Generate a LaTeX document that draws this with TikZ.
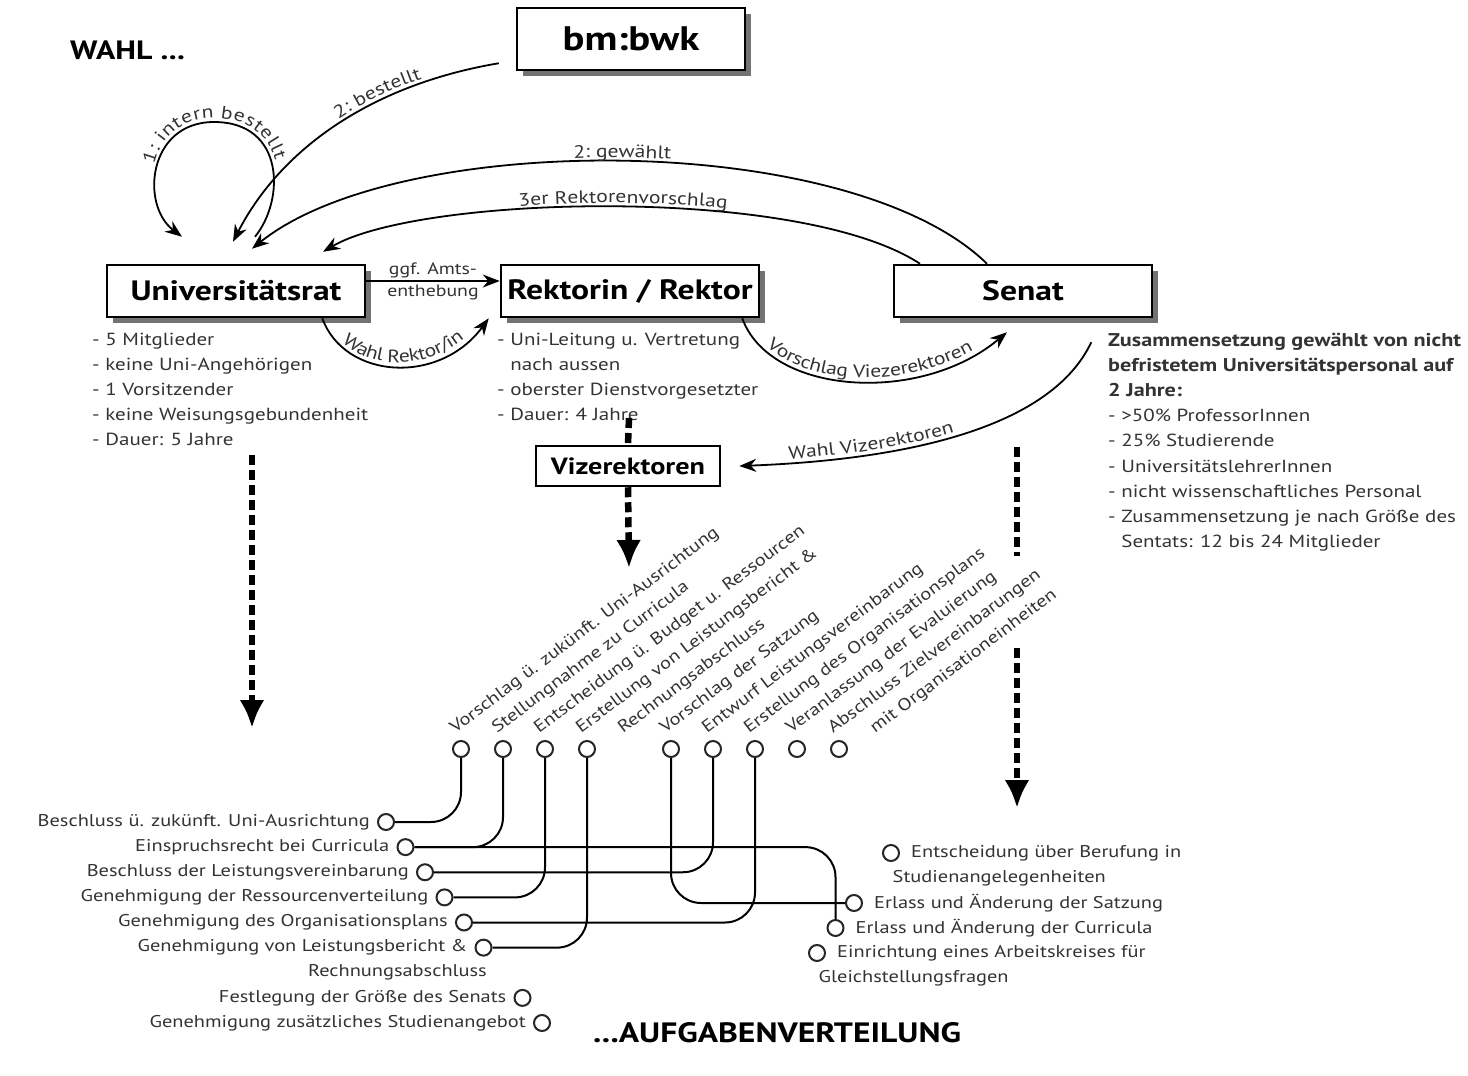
\documentclass[tikz,border=0pt]{standalone}
\usepackage{fontspec}
\setmainfont{PT Sans}[FakeStretch=1.2]
\usetikzlibrary{arrows.meta,shadows,decorations.text}

\newcommand{\listfnt}{\fontsize{17.5}{25.1}\selectfont}
\newcommand{\taskfnt}{\fontsize{17}{25.1}\selectfont}
\newcommand{\arrowfnt}{\fontsize{18}{22}\selectfont}

\begin{document}
\begin{tikzpicture}[x=1pt, y=-1pt, >={Stealth[length=17pt,width=13pt]},
  box/.style={draw=black, line width=2.5pt, fill=white, inner sep=0pt,
    font=\bfseries\fontsize{28}{32}\selectfont},
  shadowbox/.style={box, minimum width=258pt, minimum height=52pt,
    drop shadow={shadow xshift=6pt, shadow yshift=-6pt, fill=black!55, opacity=1}},
  listtxt/.style={inner sep=0pt, align=left, text=black!80, font=\listfnt},
  tasktxt/.style={listtxt, font=\taskfnt},
  dot/.style={circle, draw=black!85, line width=2pt, fill=white, minimum size=16pt, inner sep=0pt},
  link/.style={line width=2pt, rounded corners=30pt},
  arr/.style={line width=1.8pt},
  along/.style={decorate, decoration={text along path, raise=4pt, text align=center,
    text={|\arrowfnt\color{black!80}|#1}}},
  thickdash/.style={line width=6.5pt, dash pattern=on 10pt off 5pt},
  bigtip/.style={-{Latex[length=28pt,width=25pt]}}
]
  \fill[white] (0,0) rectangle (1468,1076);
  \useasboundingbox (0,0) rectangle (1468,1076);

  % titles
  \node[inner sep=0pt, anchor=west, font=\bfseries\fontsize{26.5}{30}\selectfont] (wahl) at (70,50) {WAHL ...};
  \node[inner sep=0pt, anchor=west, font=\bfseries\fontsize{28}{32}\selectfont] (aufg) at (593,1033) {...AUFGABENVERTEILUNG};

  % boxes
  \node[shadowbox, minimum width=228pt, minimum height=62pt, font=\bfseries\fontsize{34}{40}\selectfont] (bm) at (631,39) {bm:bwk};
  \node[shadowbox] (urat) at (236,291) {Universitätsrat};
  \node[shadowbox] (rektor) at (630,291) {Rektorin / Rektor};
  \node[shadowbox] (senat) at (1023,291) {Senat};
  \node[box, minimum width=184pt, minimum height=40pt, font=\bfseries\fontsize{23.5}{26}\selectfont] (viz) at (628,466) {Vizerektoren};

  % lists under the boxes
  \node[listtxt, anchor=north west] (ulist) at (92,333) {- 5 Mitglieder\\- keine Uni-Angehörigen\\- 1 Vorsitzender\\- keine Weisungsgebundenheit\\- Dauer: 5 Jahre};
  \node[listtxt, anchor=north west] (rlist) at (497,333) {- Uni-Leitung u. Vertretung\\\phantom{- }nach aussen\\- oberster Dienstvorgesetzter\\- Dauer: 4 Jahre};
  \node[listtxt, anchor=north west] (slist) at (1108,333) {{\bfseries\fontsize{18.5}{25.1}\selectfont Zusammensetzung gewählt von nicht}\\{\bfseries\fontsize{18.5}{25.1}\selectfont befristetem Universitätspersonal auf}\\{\bfseries\fontsize{18.5}{25.1}\selectfont 2 Jahre:}\\- >50\% ProfessorInnen\\- 25\% Studierende\\- UniversitätslehrerInnen\\- nicht wissenschaftliches Personal\\- Zusammensetzung je nach Größe des\\\phantom{- }Sentats: 12 bis 24 Mitglieder};

  % arrows between the bodies
  \draw[arr, <-, postaction={along={1: intern bestellt}}] ([xshift=-54pt,yshift=27pt]urat.north)
    .. controls (140,205) and (148,122) .. (214,122) .. controls (285,122) and (285,200) .. ([xshift=19pt,yshift=27pt]urat.north);
  \draw[arr, <-, postaction={along={2: bestellt}, decoration={text align={right, right indent=78pt}}}] ([xshift=-3pt,yshift=22pt]urat.north)
    .. controls (280,150) and (370,85) .. ([xshift=-17pt,yshift=8pt]bm.south west);
  \draw[arr, <-, postaction={along={2: gewählt}}] ([xshift=16pt,yshift=15pt]urat.north)
    .. controls (400,130) and (850,130) .. ([xshift=-36pt]senat.north);
  \draw[arr, <-, postaction={along={3er Rektorenvorschlag}}] ([xshift=87pt,yshift=12pt]urat.north)
    .. controls (420,195) and (800,185) .. ([xshift=-103pt]senat.north);
  \draw[arr, ->] ([yshift=10pt]urat.east) -- node[inner sep=0pt, align=center, text=black!80, font=\fontsize{16.5}{22}\selectfont] {ggf. Amts-\\enthebung} ([yshift=10pt]rektor.west);
  \draw[arr, ->, postaction={along={Wahl Rektor/in}}] ([xshift=-44pt]urat.south east)
    .. controls (345,380) and (440,385) .. ([xshift=-11pt]rektor.south west);
  \draw[arr, ->, postaction={along={Vorschlag Viezerektoren}}] ([xshift=-18pt]rektor.south east)
    .. controls (770,395) and (920,405) .. ([xshift=-16pt,yshift=-14pt]senat.south);
  \draw[arr, <-, postaction={along={Wahl Vizerektoren}, decoration={text align={left, left indent=50pt}}}] ([xshift=18pt]viz.east)
    .. controls (900,460) and (1050,430) .. ([xshift=-62pt,yshift=-24pt]senat.south east);

  % thick dashed arrows down to the tasks
  \coordinate (udash) at (252,455);
  \coordinate (utip) at (252,728);
  \draw[thickdash, bigtip] (udash) -- (utip);
  \coordinate (rdash) at (629,418);
  \draw[thickdash] (rdash) -- (viz.north);
  \coordinate (vtip) at (629,568);
  \draw[thickdash, bigtip] (viz.south) -- (vtip);
  \coordinate (sdashA) at (1017,447);
  \coordinate (sdashB) at (1017,556);
  \coordinate (sdashC) at (1017,648);
  \coordinate (stip) at (1017,808);
  \draw[thickdash] (sdashA) -- (sdashB);
  \draw[thickdash, bigtip] (sdashC) -- (stip);

  % tasks of the Rektorat
  \foreach \txt [count=\k from 0] in {Vorschlag ü. zukünft. Uni-Ausrichtung, Stellungnahme zu Curricula,
      Entscheidung ü. Budget u. Ressourcen, Erstellung von Leistungsbericht \&, Rechnungsabschluss,
      Vorschlag der Satzung, Entwurf Leistungsvereinbarung, Erstellung des Organisationsplans,
      Veranlassung der Evaluierung, Abschluss Zielvereinbarungen, mit Organisationeinheiten}
    \node[tasktxt, rotate=37, anchor=base west] (v\k) at ({455+42*\k},734) {\txt};
  \foreach \k in {0,1,2,3,5,6,7,8,9}
    \node[dot] (t\k) at ({461+42*\k},749) {};

  % tasks of the Universitaetsrat
  \foreach \txt [count=\k from 0] in {Beschluss ü. zukünft. Uni-Ausrichtung, Einspruchsrecht bei Curricula,
      Beschluss der Leistungsvereinbarung, Genehmigung der Ressourcenverteilung,
      Genehmigung des Organisationsplans, Genehmigung von Leistungsbericht \&, Rechnungsabschluss,
      Festlegung der Größe des Senats, Genehmigung zusätzliches Studienangebot}
    \node[tasktxt, anchor=east] (l\k) at ({370+19.5*\k},{822+25.125*\k}) {\txt};
  \foreach \k in {0,1,2,3,4,5,7,8}
    \node[dot] (b\k) at ({386+19.5*\k},{822+25.125*\k}) {};

  % tasks of the Senat
  \foreach \txt [count=\k from 0] in {Entscheidung über Berufung in, Studienangelegenheiten,
      Erlass und Änderung der Satzung, Erlass und Änderung der Curricula,
      Einrichtung eines Arbeitskreises für, Gleichstellungsfragen}
    \node[tasktxt, anchor=west] (s\k) at ({911-18.5*\k},{853+25*\k}) {\txt};
  \foreach \k in {0,2,3,4}
    \node[dot] (r\k) at ({891-18.5*\k},{853+25*\k}) {};

  % who does what together
  \draw[link] (t0) |- (b0);
  \draw[link] (t1) |- (b1);
  \draw[link] (b1) -| (r3);
  \draw[link] (t2) |- (b3);
  \draw[link] (b2) -| (t6);
  \draw[link] (t5) |- (r2);
  \draw[link] (t7) |- (b4);
  \draw[link] (t3) |- (b5);
\end{tikzpicture}
\end{document}
